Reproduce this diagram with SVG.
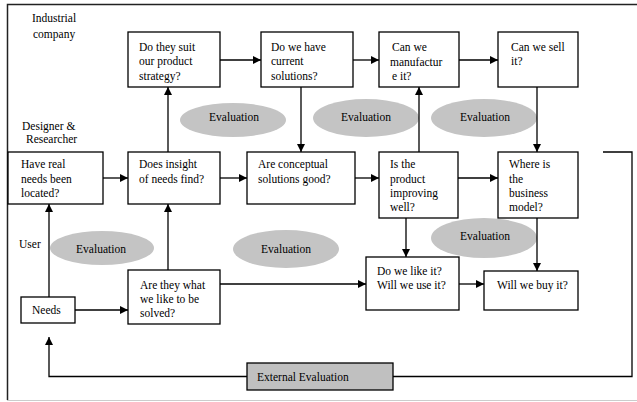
<svg xmlns="http://www.w3.org/2000/svg" width="637" height="402" viewBox="0 0 637 402">
  <style>
    .box { fill: #ffffff; stroke: #000000; stroke-width: 1.3; }
    .ext { fill: #c0c0c0; stroke: #000000; stroke-width: 1.3; }
    .eval { fill: #c4c4c4; stroke: none; }
    text { font-size: 11.5px; fill: #000000; }
    .c { text-anchor: middle; }
    .ln { fill: none; stroke: #000000; stroke-width: 1.3; }
  </style>
  <defs>
    <marker id="ah" viewBox="0 0 10 10" refX="10" refY="5" markerWidth="8" markerHeight="8" markerUnits="userSpaceOnUse" orient="auto">
      <path d="M0,0 L10,5 L0,10 z" fill="#000000"/>
    </marker>
  </defs>

  <rect x="0" y="0" width="637" height="402" fill="#ffffff"/>

  <g font-family="Liberation Serif, Tinos, Times New Roman, Nimbus Roman, FreeSerif, DejaVu Serif, serif">

  <!-- frame -->
  <g id="frame">
    <path d="M637,4.5 H7.5 V400" fill="none" stroke="#222222" stroke-width="1.5"/>
    <line x1="7" y1="400.5" x2="637" y2="400.5" stroke="#cccccc" stroke-width="1"/>
  </g>

  <!-- lane labels -->
  <g id="lane-industrial">
    <text x="32" y="22">Industrial</text>
    <text x="33" y="38">company</text>
  </g>
  <g id="lane-designer">
    <text x="22" y="130">Designer &amp;</text>
    <text x="26" y="143">Researcher</text>
  </g>
  <g id="lane-user">
    <text x="19" y="248">User</text>
  </g>

  <!-- evaluation ellipses -->
  <g id="eval-1"><ellipse class="eval" cx="233" cy="120" rx="53" ry="17"/><text class="c" x="234" y="121">Evaluation</text></g>
  <g id="eval-2"><ellipse class="eval" cx="366" cy="118" rx="53" ry="19"/><text class="c" x="366" y="121">Evaluation</text></g>
  <g id="eval-3"><ellipse class="eval" cx="484" cy="118" rx="53" ry="19"/><text class="c" x="485" y="121">Evaluation</text></g>
  <g id="eval-4"><ellipse class="eval" cx="102" cy="248" rx="52" ry="17"/><text class="c" x="101" y="253">Evaluation</text></g>
  <g id="eval-5"><ellipse class="eval" cx="286" cy="249" rx="53" ry="19"/><text class="c" x="286" y="253">Evaluation</text></g>
  <g id="eval-6"><ellipse class="eval" cx="484" cy="238" rx="53" ry="20"/><text class="c" x="485" y="240">Evaluation</text></g>

  <!-- connectors -->
  <g id="connectors">
    <line class="ln" x1="220" y1="60" x2="261" y2="60" marker-end="url(#ah)"/>
    <line class="ln" x1="353" y1="60" x2="379" y2="60" marker-end="url(#ah)"/>
    <line class="ln" x1="459" y1="60" x2="498" y2="60" marker-end="url(#ah)"/>

    <line class="ln" x1="103" y1="178" x2="128" y2="178" marker-end="url(#ah)"/>
    <line class="ln" x1="220" y1="178" x2="247" y2="178" marker-end="url(#ah)"/>
    <line class="ln" x1="355" y1="178" x2="379" y2="178" marker-end="url(#ah)"/>
    <line class="ln" x1="458" y1="178" x2="498" y2="178" marker-end="url(#ah)"/>

    <line class="ln" x1="75" y1="310" x2="128" y2="310" marker-end="url(#ah)"/>
    <line class="ln" x1="220" y1="284" x2="366" y2="284" marker-end="url(#ah)"/>
    <line class="ln" x1="459" y1="284" x2="484" y2="284" marker-end="url(#ah)"/>

    <line class="ln" x1="49" y1="297" x2="49" y2="204" marker-end="url(#ah)"/>
    <line class="ln" x1="168" y1="270" x2="168" y2="204" marker-end="url(#ah)"/>
    <line class="ln" x1="168" y1="152" x2="168" y2="87" marker-end="url(#ah)"/>
    <line class="ln" x1="301" y1="87" x2="301" y2="152" marker-end="url(#ah)"/>
    <line class="ln" x1="419" y1="152" x2="419" y2="87" marker-end="url(#ah)"/>
    <line class="ln" x1="537" y1="87" x2="537" y2="152" marker-end="url(#ah)"/>
    <line class="ln" x1="406" y1="218" x2="406" y2="257" marker-end="url(#ah)"/>
    <line class="ln" x1="537" y1="218" x2="537" y2="271" marker-end="url(#ah)"/>

    <!-- external feedback loop -->
    <path class="ln" d="M603,152 H632 V376.5 H393"/>
    <path class="ln" d="M247,376.5 H49 V337" marker-end="url(#ah)"/>
  </g>

  <!-- industrial company row -->
  <g id="suit-strategy">
    <rect class="box" x="128" y="32" width="92" height="55"/>
    <text x="139" y="51">Do they suit</text>
    <text x="139" y="65">our product</text>
    <text x="139" y="80">strategy?</text>
  </g>
  <g id="current-solutions">
    <rect class="box" x="261" y="32" width="92" height="55"/>
    <text x="271" y="51">Do we have</text>
    <text x="271" y="65">current</text>
    <text x="271" y="80">solutions?</text>
  </g>
  <g id="manufacture">
    <rect class="box" x="379" y="32" width="80" height="55"/>
    <text x="392" y="51">Can we</text>
    <text x="390" y="66">manufactur</text>
    <text x="392" y="80">e it?</text>
  </g>
  <g id="sell">
    <rect class="box" x="498" y="32" width="80" height="55"/>
    <text x="511" y="51">Can we sell</text>
    <text x="511" y="65">it?</text>
  </g>

  <!-- designer & researcher row -->
  <g id="needs-located">
    <rect class="box" x="8" y="152" width="95" height="52"/>
    <text x="21" y="168">Have real</text>
    <text x="21" y="183">needs been</text>
    <text x="21" y="197">located?</text>
  </g>
  <g id="insight">
    <rect class="box" x="128" y="152" width="92" height="52"/>
    <text x="139" y="168">Does insight</text>
    <text x="139" y="183">of needs find?</text>
  </g>
  <g id="conceptual">
    <rect class="box" x="247" y="152" width="108" height="52"/>
    <text x="258" y="168">Are conceptual</text>
    <text x="258" y="183">solutions good?</text>
  </g>
  <g id="improving">
    <rect class="box" x="379" y="152" width="79" height="66"/>
    <text x="390" y="168">Is the</text>
    <text x="390" y="183">product</text>
    <text x="390" y="197">improving</text>
    <text x="390" y="211">well?</text>
  </g>
  <g id="business-model">
    <rect class="box" x="498" y="152" width="80" height="66"/>
    <text x="509" y="168">Where is</text>
    <text x="509" y="183">the</text>
    <text x="509" y="197">business</text>
    <text x="509" y="211">model?</text>
  </g>

  <!-- user row -->
  <g id="needs">
    <rect class="box" x="21" y="297" width="54" height="26"/>
    <text x="32" y="314">Needs</text>
  </g>
  <g id="like-solved">
    <rect class="box" x="128" y="270" width="92" height="54"/>
    <text x="140" y="289">Are they what</text>
    <text x="140" y="303">we  like to be</text>
    <text x="140" y="317">solved?</text>
  </g>
  <g id="like-use">
    <rect class="box" x="366" y="257" width="93" height="53"/>
    <text x="377" y="275">Do we like it?</text>
    <text x="377" y="289">Will we use it?</text>
  </g>
  <g id="buy">
    <rect class="box" x="484" y="271" width="94" height="39"/>
    <text x="497" y="289">Will we buy it?</text>
  </g>

  <!-- external evaluation -->
  <g id="external-evaluation">
    <rect class="ext" x="247" y="363" width="146" height="27"/>
    <text x="257" y="381">External Evaluation</text>
  </g>

  </g>
</svg>
